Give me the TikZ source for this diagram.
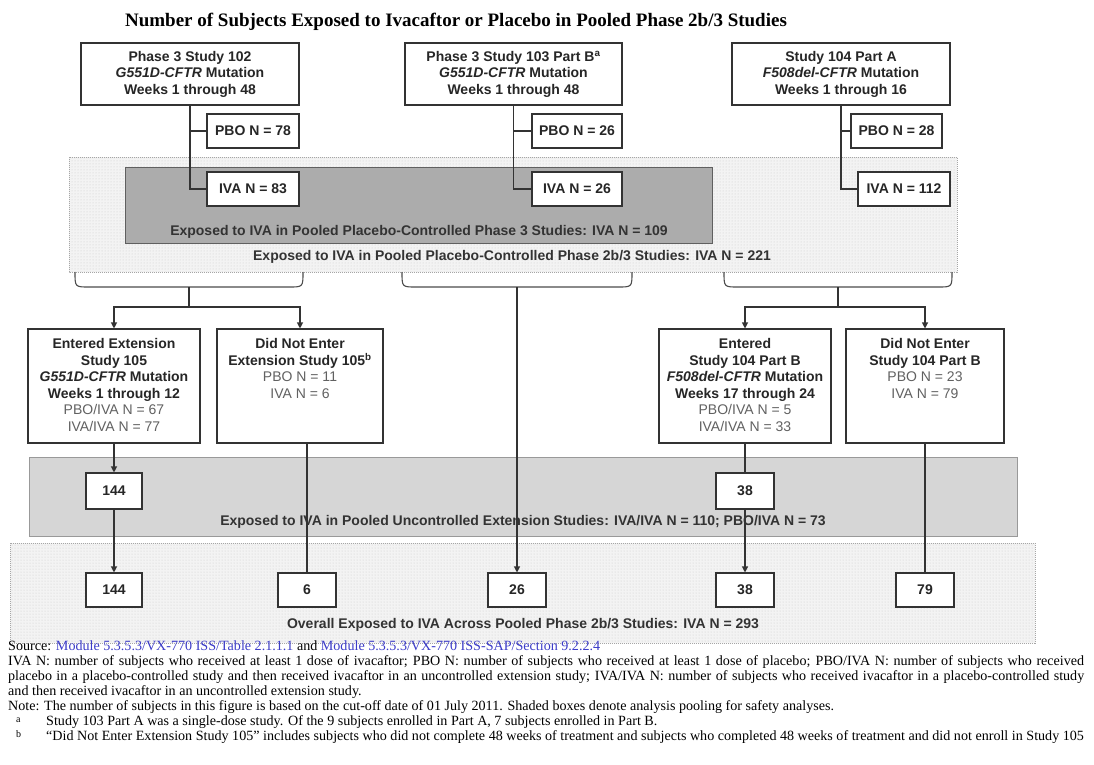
\documentclass[tikz,border=0pt]{standalone}
\usepackage{fontspec}
\setmainfont{Liberation Serif}
\newfontfamily\arial{Liberation Sans}
\usepackage{graphicx}
\usetikzlibrary{arrows.meta,patterns,calc}
\definecolor{darkpool}{RGB}{172,172,172}
\definecolor{extband}{RGB}{214,214,214}
\definecolor{lightpool}{RGB}{243,243,243}
\definecolor{linkblue}{RGB}{60,60,200}
\newcommand{\boxfont}{\arial\bfseries\fontsize{14}{16.5}\selectfont}
\newcommand{\fnotefont}{\fontsize{14.1}{15}\selectfont}
\newcommand{\regtxt}[1]{{\mdseries\color{black!62}#1}}
\begin{document}
\begin{tikzpicture}[x=1pt,y=-1pt,
  box/.style={draw=black!80, line width=1.1pt, fill=white, inner sep=0pt, align=center, font=\boxfont, text=black!85},
  numbox/.style={box, minimum height=34pt},
  rowtxt/.style={inner sep=0pt, align=center, font=\boxfont, text=black!85},
  conn/.style={draw=black!80, line width=1.1pt},
  arr/.style={conn, -{Triangle[length=6pt,width=6pt]}},
  bandtxt/.style={font=\boxfont, text=black!80, inner sep=0pt},
  note/.style={font=\fnotefont, inner sep=0pt, anchor=base west},
  brace/.style={draw=black!70, line width=1.1pt}
]
\useasboundingbox (0,0) rectangle (1094,764);
\fill[white] (0,0) rectangle (1094,764);

% title
\node[font=\bfseries\fontsize{19}{21}\selectfont, inner sep=0pt] (title) at (456,22) {Number of Subjects Exposed to Ivacaftor or Placebo in Pooled Phase 2b/3 Studies};

% pooled areas
\fill[lightpool] (69,157) rectangle (957,272);
\fill[pattern=dots, pattern color=gray!40] (69,157) rectangle (957,272);
\draw[gray!70, densely dotted, line width=1pt] (69,157) rectangle (957,272);
\filldraw[fill=darkpool, draw=gray!75!black, line width=0.8pt] (125,167) rectangle (712,243);

\filldraw[fill=extband, draw=gray!80, line width=0.8pt] (29,457) rectangle (1017,536);

\fill[lightpool] (10,543) rectangle (1035,643);
\fill[pattern=dots, pattern color=gray!40] (10,543) rectangle (1035,643);
\draw[gray!70, densely dotted, line width=1pt] (10,543) rectangle (1035,643);

% band texts
\node[bandtxt] (t109) at (419,232) {Exposed to IVA in Pooled Placebo-Controlled Phase 3 Studies: IVA N = 109};
\node[bandtxt] (t221) at (512,257) {Exposed to IVA in Pooled Placebo-Controlled Phase 2b/3 Studies: IVA N = 221};
\node[bandtxt] (t110) at (523,522) {Exposed to IVA in Pooled Uncontrolled Extension Studies: IVA/IVA N = 110; PBO/IVA N = 73};
\node[bandtxt] (t293) at (523,625) {Overall Exposed to IVA Across Pooled Phase 2b/3 Studies: IVA N = 293};

% top row
\node[box, minimum width=218pt, minimum height=62pt] (b102) at (190,74) {Phase 3 Study 102\\\textit{G551D-CFTR} Mutation\\Weeks 1 through 48};
\node[numbox, minimum width=92pt] (p78) at (253,131) {PBO N = 78};
\node[numbox, minimum width=92pt] (i83) at (253,189) {IVA N = 83};

\node[box, minimum width=217pt, minimum height=62pt] (b103) at (513.5,74) {Phase 3 Study 103 Part B\textsuperscript{a}\\\textit{G551D-CFTR} Mutation\\Weeks 1 through 48};
\node[numbox, minimum width=90pt] (p26) at (577,131) {PBO N = 26};
\node[numbox, minimum width=90pt] (i26) at (577,189) {IVA N = 26};

\node[box, minimum width=218pt, minimum height=62pt] (b104) at (841,74) {Study 104 Part A\\\textit{F508del-CFTR} Mutation\\Weeks 1 through 16};
\node[numbox, minimum width=91pt] (p28) at (896.5,131) {PBO N = 28};
\node[numbox, minimum width=92pt] (i112) at (904,189) {IVA N = 112};

\draw[conn] (b102.south) |- (i83.west);
\draw[conn] (b102.south |- p78.west) -- (p78.west);
\draw[conn] (b103.south) |- (i26.west);
\draw[conn] (b103.south |- p26.west) -- (p26.west);
\draw[conn] (b104.south) |- (i112.west);
\draw[conn] (b104.south |- p28.west) -- (p28.west);

% braces
\draw[brace] (75,272) .. controls (75,287) .. (89,287) -- (289,287) .. controls (303,287) .. (303,272);
\draw[brace] (402,272) .. controls (402,287) .. (416,287) -- (618,287) .. controls (632,287) .. (632,272);
\draw[brace] (724,272) .. controls (724,287) .. (738,287) -- (938,287) .. controls (952,287) .. (952,272);
\coordinate (j1) at (189,287);
\coordinate (h1) at (189,307);
\coordinate (j2) at (517,287);
\coordinate (j3) at (838,287);
\coordinate (h3) at (838,307);

% third row
\node[box, minimum width=172pt, minimum height=114pt] (e105) at (114,386) {};
\node[rowtxt, anchor=north] (e105t) at ($(e105.north)+(0,10)$) {Entered Extension\\Study 105\\\textit{G551D-CFTR} Mutation\\Weeks 1 through 12\\\regtxt{PBO/IVA N = 67}\\\regtxt{IVA/IVA N = 77}};
\node[box, minimum width=166pt, minimum height=114pt] (d105) at (300,386) {};
\node[rowtxt, anchor=north] (d105t) at ($(d105.north)+(0,10)$) {Did Not Enter\\Extension Study 105\textsuperscript{b}\\\regtxt{PBO N = 11}\\\regtxt{IVA N = 6}};
\node[box, minimum width=172pt, minimum height=114pt] (e104) at (745,386) {};
\node[rowtxt, anchor=north] (e104t) at ($(e104.north)+(0,10)$) {Entered\\Study 104 Part B\\\textit{F508del-CFTR} Mutation\\Weeks 17 through 24\\\regtxt{PBO/IVA N = 5}\\\regtxt{IVA/IVA N = 33}};
\node[box, minimum width=158pt, minimum height=114pt] (d104) at (925,386) {};
\node[rowtxt, anchor=north] (d104t) at ($(d104.north)+(0,10)$) {Did Not Enter\\Study 104 Part B\\\regtxt{PBO N = 23}\\\regtxt{IVA N = 79}};

\draw[conn] (j1) -- (h1);
\draw[arr] (h1) -| (e105.north);
\draw[arr] (h1) -| (d105.north);
\draw[conn] (j3) -- (h3);
\draw[arr] (h3) -| (e104.north);
\draw[arr] (h3) -| (d104.north);

% count boxes
\node[box, minimum width=56pt, minimum height=36pt] (n144a) at (114,491) {144};
\node[box, minimum width=58pt, minimum height=36pt] (n38a) at (745,491) {38};
\node[numbox, minimum width=56pt] (n144b) at (114,590) {144};
\node[numbox, minimum width=58pt] (six) at (307,590) {6};
\node[numbox, minimum width=58pt] (n26) at (517,590) {26};
\node[numbox, minimum width=58pt] (n38b) at (745,590) {38};
\node[numbox, minimum width=58pt] (n79) at (925,590) {79};

\draw[arr] (e105.south) -- (n144a.north);
\draw[arr] (n144a.south) -- (n144b.north);
\draw[conn] (six.north |- d105.south) -- (six.north);
\draw[arr] (j2) -- (n26.north);
\draw[conn] (e104.south) -- (n38a.north);
\draw[arr] (n38a.south) -- (n38b.north);
\draw[conn] (d104.south) -- (n79.north);

% footnotes
\node[note] (fn1) at (8,650) {Source: {\color{linkblue}Module 5.3.5.3/VX-770 ISS/Table 2.1.1.1} and {\color{linkblue}Module 5.3.5.3/VX-770 ISS-SAP/Section 9.2.2.4}};
\node[note] (fn2) at (8,665) {\makebox[1076pt][s]{IVA N: number of subjects who received at least 1 dose of ivacaftor; PBO N: number of subjects who received at least 1 dose of placebo; PBO/IVA N: number of subjects who received}};
\node[note] (fn3) at (8,680) {\makebox[1076pt][s]{placebo in a placebo-controlled study and then received ivacaftor in an uncontrolled extension study; IVA/IVA N: number of subjects who received ivacaftor in a placebo-controlled study}};
\node[note] (fn4) at (8,695) {and then received ivacaftor in an uncontrolled extension study.};
\node[note] (fn5) at (8,710) {Note: The number of subjects in this figure is based on the cut-off date of 01 July 2011. Shaded boxes denote analysis pooling for safety analyses.};
\node[note] (fa) at (16,722) {\fontsize{10}{11}\selectfont a};
\node[note] (fn6) at (46,725) {Study 103 Part A was a single-dose study. Of the 9 subjects enrolled in Part A, 7 subjects enrolled in Part B.};
\node[note] (fb) at (16,737) {\fontsize{10}{11}\selectfont b};
\node[note] (fn7) at (46,740) {\textquotedblleft Did Not Enter Extension Study 105\textquotedblright{} includes subjects who did not complete 48 weeks of treatment and subjects who completed 48 weeks of treatment and did not enroll in Study 105};
\end{tikzpicture}
\end{document}
